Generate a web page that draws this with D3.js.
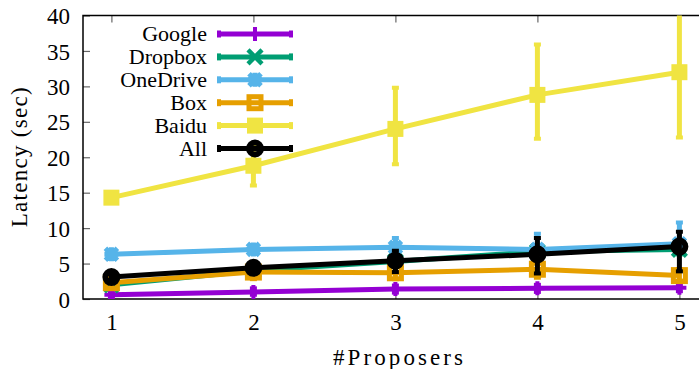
<!DOCTYPE html>
<html><head><meta charset="utf-8">
<script src="https://cdn.jsdelivr.net/npm/d3@7"></script>
<style>
html,body{margin:0;padding:0;background:#fff;}
svg{display:block;}
</style></head>
<body><svg id="c" width="699" height="369"></svg>
<script>
const xValues = [1, 2, 3, 4, 5];
const yTicks = [0, 5, 10, 15, 20, 25, 30, 35, 40];
const seriesNames = ["Google", "Dropbox", "OneDrive", "Box", "Baidu", "All"];
const seriesColors = ["#9400D3", "#009E73", "#56B4E9", "#E69F00", "#F0E442", "#000000"];
const seriesMarkers = ["plus", "cross", "star", "openSquare", "filledSquare", "openCircle"];

const googleVals  = [0.6, 1.0, 1.4, 1.5, 1.6];
const googleLo    = [0.2, 0.6, 0.9, 1.0, 1.1];
const googleHi    = [1.0, 1.5, 1.9, 2.0, 2.1];
const dropboxVals = [2.0, 4.0, 5.3, 6.7, 7.0];
const dropboxLo   = [1.6, 3.5, 4.8, 6.1, 6.3];
const dropboxHi   = [2.4, 4.5, 5.8, 7.3, 7.7];
const onedriveVals= [6.3, 7.0, 7.3, 7.0, 7.8];
const onedriveLo  = [5.8, 6.5, 6.6, 6.2, 6.6];
const onedriveHi  = [6.8, 7.5, 8.6, 9.2, 10.8];
const boxVals     = [2.3, 3.8, 3.7, 4.2, 3.3];
const boxLo       = [1.6, 2.8, 2.8, 3.0, 2.6];
const boxHi       = [3.0, 4.6, 4.8, 5.5, 4.2];
const baiduVals   = [14.3, 18.8, 24.0, 28.8, 32.0];
const baiduLo     = [14.0, 16.0, 19.0, 22.6, 22.8];
const baiduHi     = [14.6, 21.5, 29.8, 35.9, 41.0];
const allVals     = [3.1, 4.4, 5.4, 6.3, 7.4];
const allLo       = [2.7, 3.6, 3.8, 3.6, 3.9];
const allHi       = [3.5, 5.2, 6.8, 8.6, 9.5];

const valsList = [googleVals, dropboxVals, onedriveVals, boxVals, baiduVals, allVals];
const loList = [googleLo, dropboxLo, onedriveLo, boxLo, baiduLo, allLo];
const hiList = [googleHi, dropboxHi, onedriveHi, boxHi, baiduHi, allHi];

const series = seriesNames.map((n, i) => ({
  name: n, color: seriesColors[i], marker: seriesMarkers[i],
  pts: xValues.map((x, j) => ({x, y: valsList[i][j], lo: loList[i][j], hi: hiList[i][j]}))
}));

const FONT = "Liberation Serif, DejaVu Serif, serif";
const svg = d3.select("#c");
const L = 83, T = 15.5, B = 299;
const x = d3.scaleLinear().domain([0.8, 5.2]).range([L, L + 4.4 * 142]);
const y = d3.scaleLinear().domain([0, 40]).range([B, T]);

svg.append("defs").append("clipPath").attr("id", "clip")
  .append("rect").attr("x", L).attr("y", T).attr("width", 699 - L).attr("height", B - T);

const fs = 23;
function styleText(sel, size) {
  sel.attr("font-family", FONT).attr("font-size", size).attr("fill", "#000");
}
const yAxis = svg.append("g").attr("transform", `translate(${L},0)`)
  .call(d3.axisLeft(y).tickValues(yTicks).tickFormat(d3.format("d")).tickSizeInner(-7).tickSizeOuter(0).tickPadding(13));
styleText(yAxis, fs);
yAxis.select(".domain").remove();
yAxis.selectAll("line").attr("stroke", "#666").attr("stroke-width", 1.2);
yAxis.selectAll("text").attr("dy", "0.35em");

const xAxis = svg.append("g").attr("transform", `translate(0,${B})`)
  .call(d3.axisBottom(x).tickValues(xValues).tickFormat(d3.format("d")).tickSizeInner(-7).tickSizeOuter(0).tickPadding(15));
styleText(xAxis, fs);
xAxis.select(".domain").remove();
xAxis.selectAll("line").attr("stroke", "#666").attr("stroke-width", 1.2);
xAxis.selectAll("text").attr("dy", "0.71em");

const xAxisTop = svg.append("g").attr("transform", `translate(0,${T})`)
  .call(d3.axisTop(x).tickValues(xValues).tickSizeInner(-7).tickSizeOuter(0).tickFormat(""));
xAxisTop.select(".domain").remove();
xAxisTop.selectAll("line").attr("stroke", "#666").attr("stroke-width", 1.2);

svg.append("path").attr("d", `M${x(5.2)},${T}H${L}V${B}H${x(5.2)}`)
  .attr("fill", "none").attr("stroke", "#000").attr("stroke-width", 1.5);

const t1 = svg.append("text").attr("transform", `translate(27,${(T + B) / 2}) rotate(-90)`)
  .attr("text-anchor", "middle").attr("textLength", 140).attr("lengthAdjust", "spacing").text("Latency (sec)");
styleText(t1, fs);
const t2 = svg.append("text").attr("x", 398).attr("y", 365).attr("text-anchor", "middle")
  .attr("textLength", 130).attr("lengthAdjust", "spacing").text("#Proposers");
styleText(t2, fs);

function drawMarker(g, type, color, cx, cy) {
  const s = 7;
  if (type === "plus") {
    g.append("path").attr("d", `M${cx - s},${cy}H${cx + s}M${cx},${cy - s}V${cy + s}`)
      .attr("stroke", color).attr("stroke-width", 4).attr("fill", "none");
  } else if (type === "cross") {
    g.append("path").attr("d", `M${cx - s},${cy - s}L${cx + s},${cy + s}M${cx - s},${cy + s}L${cx + s},${cy - s}`)
      .attr("stroke", color).attr("stroke-width", 4.5).attr("fill", "none");
  } else if (type === "star") {
    g.append("path").attr("d", `M${cx - s},${cy}H${cx + s}M${cx},${cy - s}V${cy + s}M${cx - s + 1},${cy - s + 1}L${cx + s - 1},${cy + s - 1}M${cx - s + 1},${cy + s - 1}L${cx + s - 1},${cy - s + 1}`)
      .attr("stroke", color).attr("stroke-width", 5).attr("fill", "none");
  } else if (type === "openSquare") {
    g.append("rect").attr("x", cx - 6).attr("y", cy - 6).attr("width", 12).attr("height", 12)
      .attr("stroke", color).attr("stroke-width", 5).attr("fill", "none");
  } else if (type === "filledSquare") {
    g.append("rect").attr("x", cx - s - 1).attr("y", cy - s - 1).attr("width", 2 * s + 2).attr("height", 2 * s + 2)
      .attr("fill", color);
  } else if (type === "openCircle") {
    g.append("circle").attr("cx", cx).attr("cy", cy).attr("r", 6)
      .attr("stroke", color).attr("stroke-width", 6).attr("fill", "none");
  }
}

const plot = svg.append("g").attr("clip-path", "url(#clip)");
const line = d3.line().x(d => x(d.x)).y(d => y(d.y));
series.forEach(s => {
  const g = plot.append("g");
  g.append("path").datum(s.pts).attr("d", line)
    .attr("fill", "none").attr("stroke", s.color).attr("stroke-width", 5).attr("stroke-linejoin", "round");
  s.pts.forEach(p => {
    g.append("line").attr("x1", x(p.x)).attr("x2", x(p.x)).attr("y1", y(p.lo)).attr("y2", y(p.hi))
      .attr("stroke", s.color).attr("stroke-width", 5);
    [p.lo, p.hi].forEach(v => {
      g.append("line").attr("x1", x(p.x) - 3.5).attr("x2", x(p.x) + 3.5).attr("y1", y(v)).attr("y2", y(v))
        .attr("stroke", s.color).attr("stroke-width", 4);
    });
    drawMarker(g, s.marker, s.color, x(p.x), y(p.y));
  });
});

const leg = svg.append("g");
styleText(leg, 22);
series.forEach((s, i) => {
  const yy = 34 + i * 22.9;
  leg.append("text").attr("x", 207).attr("y", yy).attr("dy", "0.33em").attr("text-anchor", "end").text(s.name);
  leg.append("line").attr("x1", 219).attr("x2", 291).attr("y1", yy).attr("y2", yy)
    .attr("stroke", s.color).attr("stroke-width", 5);
  [219, 291].forEach(xx => leg.append("line").attr("x1", xx).attr("x2", xx).attr("y1", yy - 3.5).attr("y2", yy + 3.5)
    .attr("stroke", s.color).attr("stroke-width", 4));
  drawMarker(leg, s.marker, s.color, 255, yy);
});
</script></body></html>
